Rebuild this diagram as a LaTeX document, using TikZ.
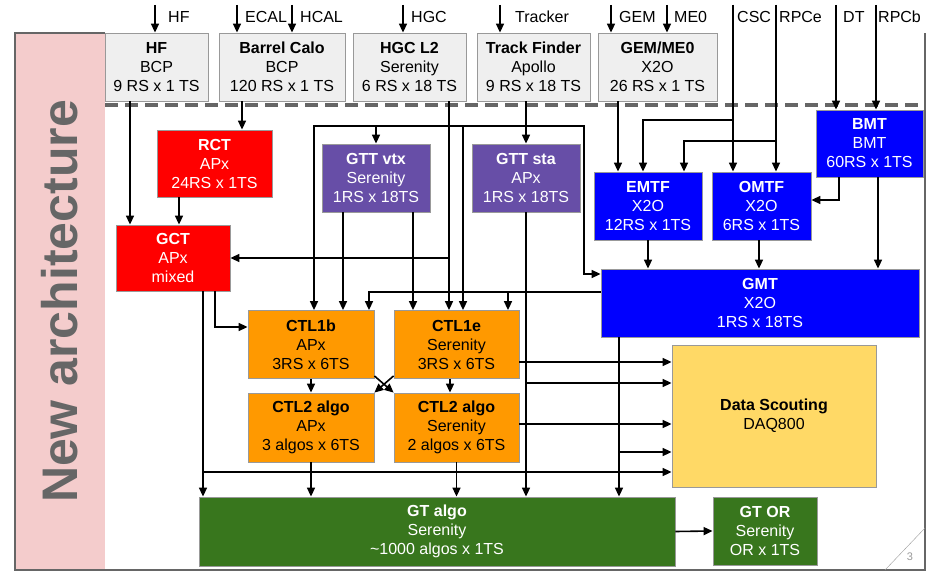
\documentclass[tikz,border=0pt]{standalone}
\usepackage{fontspec}
\setmainfont{Liberation Sans}
\usetikzlibrary{arrows.meta}
\definecolor{boxgray}{HTML}{EFEFEF}
\definecolor{rimgray}{HTML}{999999}
\definecolor{calored}{HTML}{FF0000}
\definecolor{gttpurple}{HTML}{674EA7}
\definecolor{muonblue}{HTML}{0000FF}
\definecolor{ctlorange}{HTML}{FF9900}
\definecolor{dsyellow}{HTML}{FFD966}
\definecolor{gtgreen}{HTML}{38761D}
\definecolor{sidepink}{HTML}{F4CCCC}
\definecolor{sidegray}{HTML}{666666}
\begin{document}
\begin{tikzpicture}[x=1pt,y=-1pt,
  blk/.style={draw=rimgray, line width=0.8pt, align=center, inner sep=0pt, font=\fontsize{16}{19}\selectfont},
  inbox/.style={blk, fill=boxgray, minimum height=68},
  calo/.style={blk, fill=calored, text=white, minimum height=67},
  gtt/.style={blk, fill=gttpurple, text=white, minimum width=108, minimum height=68},
  muon/.style={blk, fill=muonblue, text=white, minimum height=68},
  ctl/.style={blk, fill=ctlorange, minimum width=126, minimum height=68},
  gt/.style={blk, fill=gtgreen, text=white, minimum height=69},
  lbl/.style={font=\fontsize{16}{19}\selectfont, anchor=west, inner sep=0pt},
  arr/.style={-{Triangle[length=9pt,width=8pt]}, line width=1.6pt}]
\useasboundingbox (0,0) rectangle (927,572);

% side panel and frame
\node[rotate=90, fill=sidepink, minimum width=537, minimum height=90, inner sep=0pt, text=sidegray,
  font=\fontsize{50}{50}\selectfont\bfseries] (side) at (60,301.5) {New architecture};
\draw[sidegray, line width=1.5pt] (105,33) -- (15,33) -- (15,570) -- (925,570) -- (925,33);
\draw[rimgray] (885,570) -- (925,528);
\node[text=rimgray, font=\fontsize{11}{11}\selectfont] (pageno) at (910,557) {3};
\draw[sidegray, line width=3.2pt, dash pattern=on 13pt off 7pt] (105,105) -- (925,105);

% boxes
\node[inbox, minimum width=103] (hf) at (156.5,67) {\textbf{HF}\\BCP\\9 RS x 1 TS};
\node[inbox, minimum width=126] (barrel) at (282,67) {\textbf{Barrel Calo}\\BCP\\120 RS x 1 TS};
\node[inbox, minimum width=113] (hgc) at (409.5,67) {\textbf{HGC L2}\\Serenity\\6 RS x 18 TS};
\node[inbox, minimum width=113] (tf) at (533.5,67) {\textbf{Track Finder}\\Apollo\\9 RS x 18 TS};
\node[inbox, minimum width=119] (gem) at (657.5,67) {\textbf{GEM/ME0}\\X2O\\26 RS x 1 TS};
\node[calo, minimum width=115] (rct) at (214.5,163.5) {\textbf{RCT}\\APx\\24RS x 1TS};
\node[calo, minimum width=114, minimum height=66] (gct) at (173,258) {\textbf{GCT}\\APx\\mixed};
\node[gtt] (gttvtx) at (376,178) {\textbf{GTT vtx}\\Serenity\\1RS x 18TS};
\node[gtt] (gttsta) at (526,178) {\textbf{GTT sta}\\APx\\1RS x 18TS};
\node[muon, minimum width=108] (emtf) at (648,206) {\textbf{EMTF}\\X2O\\12RS x 1TS};
\node[muon, minimum width=99] (omtf) at (761.5,206) {\textbf{OMTF}\\X2O\\6RS x 1TS};
\node[muon, minimum width=107, minimum height=67] (bmt) at (869.5,143.5) {\textbf{BMT}\\BMT\\60RS x 1TS};
\node[muon, minimum width=318] (gmt) at (760,303) {\textbf{GMT}\\X2O\\1RS x 18TS};
\node[ctl] (ctl1b) at (311,344.5) {\textbf{CTL1b}\\APx\\3RS x 6TS};
\node[ctl, minimum width=125] (ctl1e) at (456.5,344.5) {\textbf{CTL1e}\\Serenity\\3RS x 6TS};
\node[ctl, minimum height=69] (ctl2b) at (311,427.5) {\textbf{CTL2 algo}\\APx\\3 algos x 6TS};
\node[ctl, minimum width=125, minimum height=69] (ctl2e) at (456.5,427.5) {\textbf{CTL2 algo}\\Serenity\\2 algos x 6TS};
\node[blk, fill=dsyellow, minimum width=204, minimum height=142] (ds) at (774,416) {\textbf{Data Scouting}\\DAQ800};
\node[gt, minimum width=476] (gtalgo) at (437,531.5) {\textbf{GT algo}\\Serenity\\\textasciitilde1000 algos x 1TS};
\node[gt, minimum width=104, minimum height=68] (gtor) at (765,531) {\textbf{GT OR}\\Serenity\\OR x 1TS};

% inputs
\coordinate (iHF) at (155,5);
\coordinate (iECAL) at (237,5);
\coordinate (iHCAL) at (292,5);
\coordinate (iHGC) at (403,5);
\coordinate (iTrk) at (500,5);
\coordinate (iGEM) at (611,5);
\coordinate (iME0) at (667,5);
\coordinate (iCSC) at (733,5);
\coordinate (iRPCe) at (776,5);
\coordinate (iDT) at (836,5);
\coordinate (iRPCb) at (876,5);
\node[lbl] (lHF) at (168,17) {HF};
\node[lbl] (lECAL) at (245,17) {ECAL};
\node[lbl] (lHCAL) at (300,17) {HCAL};
\node[lbl] (lHGC) at (411,17) {HGC};
\node[lbl] (lTrk) at (515,17) {Tracker};
\node[lbl] (lGEM) at (619,17) {GEM};
\node[lbl] (lME0) at (674,17) {ME0};
\node[lbl] (lCSC) at (737,17) {CSC};
\node[lbl] (lRPCe) at (779,17) {RPCe};
\node[lbl] (lDT) at (843,17) {DT};
\node[lbl] (lRPCb) at (878,17) {RPCb};
\draw[arr] (iHF) -- (iHF |- hf.north);
\draw[arr] (iECAL) -- (iECAL |- barrel.north);
\draw[arr] (iHCAL) -- (iHCAL |- barrel.north);
\draw[arr] (iHGC) -- (iHGC |- hgc.north);
\draw[arr] (iTrk) -- (iTrk |- tf.north);
\draw[arr] (iGEM) -- (iGEM |- gem.north);
\draw[arr] (iME0) -- (iME0 |- gem.north);
\draw[arr] (iCSC) -- (iCSC |- omtf.north);
\draw[arr] (iCSC) -- (733,120) -| (emtf.north -| 643,0);
\draw[arr] (iRPCe) -- (iRPCe |- omtf.north);
\draw[arr] (iRPCe) -- (776,141) -| (emtf.north -| 684,0);
\draw[arr] (iDT) -- (iDT |- bmt.north);
\draw[arr] (iRPCb) -- (iRPCb |- bmt.north);

% calo
\draw[arr] (hf.south -| 130,0) -- (gct.north -| 130,0);
\draw[arr] (barrel.south -| 242,0) -- (rct.north -| 242,0);
\draw[arr] (rct.south -| 179,0) -- (gct.north -| 179,0);
\draw[arr] (hgc.south -| 449,0) -- (ctl1e.north -| 449,0);
\draw[arr] (hgc.south -| 449,0) |- (gct.east |- 0,258);
\draw[arr] (gct.south -| 203,0) -- (gtalgo.north -| 203,0);
\draw[arr] (gct.south -| 203,0) |- (ds.west |- 0,472);
\draw[arr] (gct.south -| 215,0) |- (ctl1b.west |- 0,327);

% tracks
\draw[arr] (tf.south -| 526,0) -- (gttsta.north);
\draw[arr] (tf.south -| 526,0) -- (526,126) -| (ctl1b.north -| 314,0);
\draw[arr] (tf.south -| 526,0) -- (526,126) -| (gttvtx.north);
\draw[arr] (tf.south -| 526,0) -- (526,126) -| (ctl1e.north -| 463,0);
\draw[arr] (tf.south -| 526,0) -- (526,126) -| (584,274) -- (gmt.west |- 0,274);
\draw[arr] (gttvtx.south -| 343,0) -- (ctl1b.north -| 343,0);
\draw[arr] (gttvtx.south -| 413,0) -- (ctl1e.north -| 413,0);
\draw[arr] (gttsta.south) -- (gttsta.south |- gtalgo.north);
\draw[arr] (gttsta.south) |- (ds.west |- 0,383);

% muons
\draw[arr] (gem.south -| 618,0) -- (emtf.north -| 618,0);
\draw[arr] (bmt.south -| 839,0) |- (omtf.east |- 0,200);
\draw[arr] (bmt.south -| 878,0) -- (gmt.north -| 878,0);
\draw[arr] (emtf.south) -- (emtf.south |- gmt.north);
\draw[arr] (omtf.south -| 759,0) -- (gmt.north -| 759,0);
\draw[arr] (gmt.west |- 0,292) -| (ctl1b.north -| 369,0);
\draw[arr] (gmt.west |- 0,292) -| (ctl1e.north -| 508,0);
\draw[arr] (gmt.south -| 619,0) -- (gtalgo.north -| 619,0);
\draw[arr] (gmt.south -| 619,0) |- (ds.west |- 0,452);

% correlator
\draw[arr] (ctl1b.south) -- (ctl2b.north);
\draw[arr] (ctl1e.south -| 450,0) -- (ctl2e.north -| 450,0);
\draw[arr] (ctl1e.south west) ++(0,-3) -- (ctl2b.north east);
\draw[arr] (ctl1b.south east) ++(0,-3) -- (ctl2e.north west);
\draw[arr] (ctl1e.east |- 0,362) -- (ds.west |- 0,362);
\draw[arr] (ctl2e.east |- 0,424) -- (ds.west |- 0,424);
\draw[arr] (ctl2b.south) -- (ctl2b.south |- gtalgo.north);
\draw[arr] (ctl2e.south) -- (ctl2e.south |- gtalgo.north);
\draw[arr] (gtalgo.east) -- (gtor.west);
\end{tikzpicture}
\end{document}
